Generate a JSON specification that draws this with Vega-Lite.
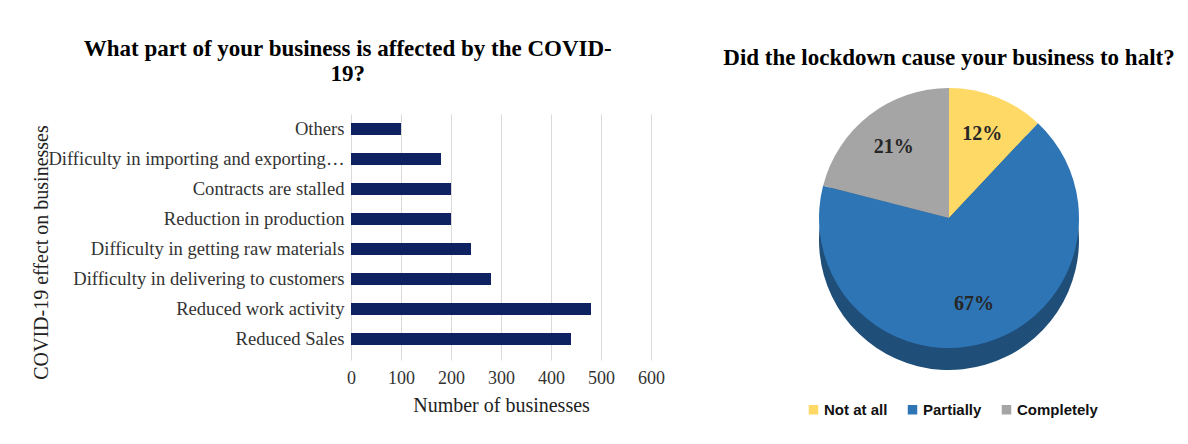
{
  "$schema": "https://vega.github.io/schema/vega-lite/v6.json",
  "background": "white",
  "padding": {"left": 31, "top": 38, "right": 0, "bottom": 5},
  "config": {"view": {"stroke": null}, "font": "Liberation Serif"},
  "resolve": {"legend": {"color": "independent"}, "scale": {"color": "independent"}},
  "spacing": 49,
  "hconcat": [
    {
      "width": 300,
      "height": 240,
      "title": {
        "text": ["What part of your business is affected by the COVID-", "19?"],
        "font": "Liberation Serif",
        "fontSize": 23,
        "fontWeight": "bold",
        "color": "#000000",
        "anchor": "middle",
        "frame": "bounds",
        "lineHeight": 25,
        "offset": 28
      },
      "data": {
        "values": [
          {"effect": "Others", "count": 100},
          {"effect": "Difficulty in importing and exporting…", "count": 180},
          {"effect": "Contracts are stalled", "count": 200},
          {"effect": "Reduction in production", "count": 200},
          {"effect": "Difficulty in getting raw materials", "count": 240},
          {"effect": "Difficulty in delivering to customers", "count": 280},
          {"effect": "Reduced work activity", "count": 480},
          {"effect": "Reduced Sales", "count": 440}
        ]
      },
      "mark": {"type": "bar", "color": "#0E2161"},
      "encoding": {
        "y": {
          "field": "effect",
          "type": "nominal",
          "sort": null,
          "scale": {"paddingInner": 0.6, "paddingOuter": 0.3},
          "axis": {
            "title": "COVID-19 effect on businesses",
            "titleFont": "Liberation Serif",
            "titleFontSize": 20,
            "titleFontWeight": "normal",
            "titleColor": "#222222",
            "titleX": -300,
            "titleY": 138,
            "titleBaseline": "bottom",
            "titleAngle": -90,
            "titleAlign": "center",
            "labelFont": "Liberation Serif",
            "labelFontSize": 18.6,
            "labelColor": "#333333",
            "labelLimit": 400,
            "labelPadding": 7,
            "domain": false,
            "ticks": false
          }
        },
        "x": {
          "field": "count",
          "type": "quantitative",
          "scale": {"domain": [0, 600]},
          "axis": {
            "title": "Number of businesses",
            "titleFont": "Liberation Serif",
            "titleFontSize": 20,
            "titleFontWeight": "normal",
            "titleColor": "#222222",
            "titlePadding": 8,
            "labelFont": "Liberation Serif",
            "labelFontSize": 18,
            "labelColor": "#333333",
            "labelPadding": 9,
            "labelFlush": false,
            "values": [0, 100, 200, 300, 400, 500, 600],
            "grid": true,
            "gridColor": "#d9d9d9",
            "domain": false,
            "ticks": true,
            "tickColor": "#d9d9d9",
            "tickSize": 6
          }
        }
      }
    },
    {
      "width": 470,
      "height": 208,
      "title": {
        "text": "Did the lockdown cause your business to halt?",
        "font": "Liberation Serif",
        "fontSize": 23,
        "fontWeight": "bold",
        "color": "#000000",
        "anchor": "middle",
        "offset": 18
      },
      "data": {
        "values": [
          {"status": "Not at all", "share": 0.12, "k": 1},
          {"status": "Partially", "share": 0.67, "k": 2},
          {"status": "Completely", "share": 0.21, "k": 3}
        ]
      },
      "layer": [
        {
          "mark": {"type": "arc", "outerRadius": 130, "yOffset": 22, "color": "#1F4E79"},
          "encoding": {
            "theta": {"field": "share", "type": "quantitative", "stack": true},
            "order": {"field": "k", "type": "quantitative"}
          }
        },
        {
          "mark": {"type": "arc", "outerRadius": 130},
          "encoding": {
            "theta": {"field": "share", "type": "quantitative", "stack": true},
            "order": {"field": "k", "type": "quantitative"},
            "color": {
              "field": "status",
              "type": "nominal",
              "sort": ["Not at all", "Partially", "Completely"],
              "scale": {"domain": ["Not at all", "Partially", "Completely"], "range": ["#FFD966", "#2E75B6", "#A5A5A5"]},
              "legend": {
                "title": null,
                "orient": "none",
                "legendX": 92,
                "legendY": 288,
                "direction": "horizontal",
                "symbolType": "square",
                "symbolSize": 90,
                "symbolStrokeWidth": 0,
                "labelFont": "Liberation Sans",
                "labelFontSize": 15,
                "labelFontWeight": "bold",
                "labelColor": "#111111",
                "labelOffset": 3,
                "columnPadding": 17
              }
            }
          }
        },
        {
          "mark": {"type": "text", "radius": 90, "font": "Liberation Serif", "fontSize": 20, "fontWeight": "bold", "color": "#262626"},
          "encoding": {
            "theta": {"field": "share", "type": "quantitative", "stack": true},
            "order": {"field": "k", "type": "quantitative"},
            "text": {"field": "share", "type": "quantitative", "format": ".0%"}
          }
        }
      ]
    }
  ]
}
